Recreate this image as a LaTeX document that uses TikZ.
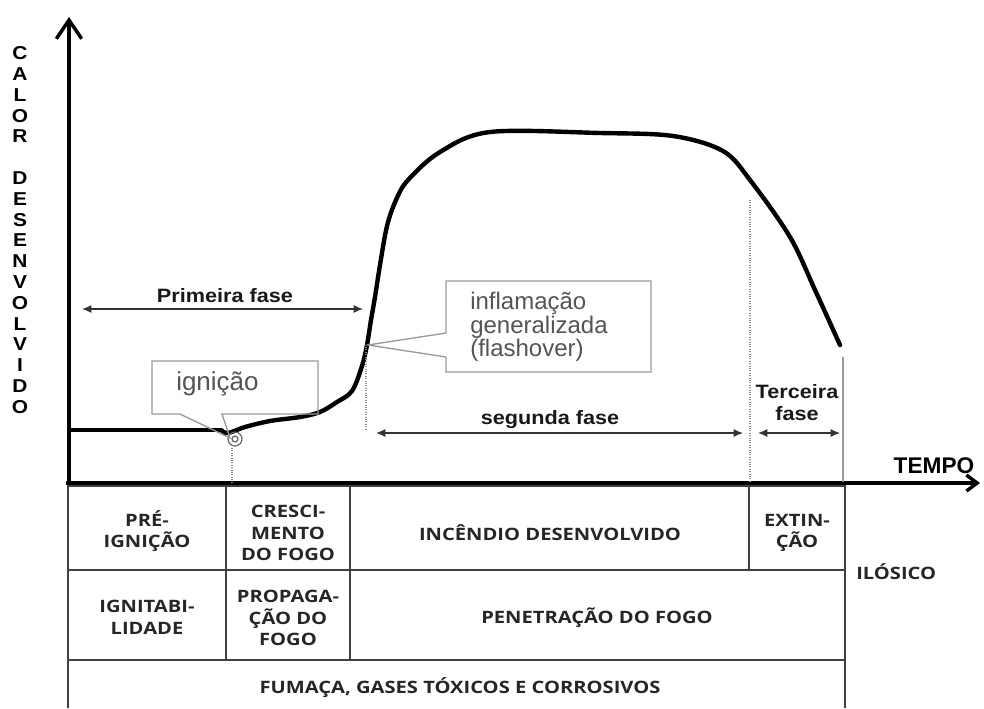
\documentclass[tikz,border=0pt]{standalone}
\usepackage{fontspec}
\setmainfont{Liberation Sans}
\newfontfamily\tabfont[FakeStretch=1.18]{Open Sans}
\newfontfamily\widefont[FakeStretch=1.12]{Liberation Sans}
\usetikzlibrary{arrows.meta}
\definecolor{boxgray}{gray}{0.6}
\definecolor{notegray}{gray}{0.33}

\begin{document}
\begin{tikzpicture}[x=0.75pt,y=-0.75pt,
    axis/.style={line width=2.6pt, line cap=butt},
    fire/.style={line width=3.3pt, line join=round, line cap=round},
    dim/.style={{Latex[length=7pt,width=6pt]}-{Latex[length=7pt,width=6pt]}, line width=0.9pt, draw=black!80},
    guide/.style={draw=black!45, line width=0.8pt, densely dotted},
    callout/.style={draw=boxgray, line width=1pt, line join=miter},
    phase/.style={font=\widefont\bfseries\fontsize{14.5}{16.5}\selectfont, text=black!90, align=center, inner sep=0pt},
    note/.style={text=notegray, font=\fontsize{18}{17.6}\selectfont, align=left, anchor=west, inner sep=0pt},
    cell/.style={font=\tabfont\bfseries\fontsize{12.8}{16.3}\selectfont, align=center, text=black!85, inner sep=0pt},
    tabline/.style={draw=black!75, line width=1pt},
    spark/.style={circle, draw=black!60, line width=0.9pt, inner sep=0pt}
  ]
  \useasboundingbox (0,0) rectangle (984,708);

  % axes
  \coordinate (origin) at (69,483);
  \coordinate (ytop) at (69,17);
  \coordinate (xleft) at (66,483);
  \coordinate (xend) at (980,483);
  \draw[axis, -{Straight Barb[length=14pt,width=19pt]}] (origin) -- (ytop);
  \draw[axis, -{Straight Barb[length=8pt,width=12pt]}] (xleft) -- (xend);
  \node[font=\widefont\bfseries\fontsize{14}{15.6}\selectfont, align=center, inner sep=0pt] (ylabel) at (20,230)
    {C\\A\\L\\O\\R\\[15.6pt]D\\E\\S\\E\\N\\V\\O\\L\\V\\I\\D\\O};
  \node[font=\bfseries\fontsize{17}{18}\selectfont, inner sep=0pt] (tempo) at (934,466) {TEMPO};

  % curve
  \draw[fire] (70,430) -- (221,430);
  \draw[fire] plot[smooth, tension=0.55] coordinates {(221,430) (228,433) (245,427) (270,421)
    (300,417) (320,412) (337,402) (352,391) (362,366) (367,345) (371,320) (375,297) (380,265)
    (387,226) (396,200) (408,180) (440,152) (490,132) (600,133) (673,136) (723,151) (750,180)
    (790,237) (815,290) (840,345)};
  \node[spark, minimum size=10.5pt] (ign) at (235,439) {};
  \node[spark, minimum size=4.5pt] (igncore) at (235,439) {};

  % guides
  \coordinate (g1a) at (232,448); \coordinate (g1b) at (232,482);
  \coordinate (g2a) at (366,347); \coordinate (g2b) at (366,431);
  \coordinate (g3a) at (750,200); \coordinate (g3b) at (750,482);
  \coordinate (g4a) at (843,357); \coordinate (g4b) at (843,482);
  \draw[guide] (g1a) -- (g1b);
  \draw[guide] (g2a) -- (g2b);
  \draw[guide] (g3a) -- (g3b);
  \draw[draw=black!40, line width=1pt] (g4a) -- (g4b);

  % phases
  \coordinate (f1a) at (82,309); \coordinate (f1b) at (363,309);
  \coordinate (f2a) at (376,433); \coordinate (f2b) at (743,433);
  \coordinate (f3a) at (758,433); \coordinate (f3b) at (840,433);
  \draw[dim] (f1a) -- (f1b);
  \draw[dim] (f2a) -- (f2b);
  \draw[dim] (f3a) -- (f3b);
  \node[phase] (fase1) at (225,296) {Primeira fase};
  \node[phase] (fase2) at (550,420) {segunda fase};
  \node[phase] (fase3) at (797,403) {Terceira\\fase};

  % callouts
  \draw[callout] (152,361) -- (318,361) -- (318,414) -- (222,414) -- (230,438)
    -- (180,414) -- (152,414) -- cycle;
  \node[note, font=\fontsize{19.5}{20}\selectfont] (ignlabel) at (176,384) {ignição};
  \draw[callout] (446,281) -- (651,281) -- (651,372) -- (446,372) -- (446,357)
    -- (368,345) -- (446,333) -- cycle;
  \node[note] (flashlabel) at (470,327) {inflamação\\generalizada\\(flashover)};

  % table
  \draw[tabline] (68,708) -- (68,486) -- (845,486) -- (845,708);
  \draw[tabline] (68,570) -- (845,570);
  \draw[tabline] (68,660) -- (845,660);
  \draw[tabline] (226,486) -- (226,660);
  \draw[tabline] (350,486) -- (350,660);
  \draw[tabline] (749,486) -- (749,570);
  \node[cell] (preign) at (147,531) {PRÉ-\\IGNIÇÃO};
  \node[cell] (cresc) at (288,533) {CRESCI-\\MENTO\\DO FOGO};
  \node[cell] (incdes) at (550,533) {INCÊNDIO DESENVOLVIDO};
  \node[cell] (extin) at (797,533) {EXTIN-\\ÇÃO};
  \node[cell] (ignit) at (147,617) {IGNITABI-\\LIDADE};
  \node[cell] (propag) at (288,618) {PROPAGA-\\ÇÃO DO\\FOGO};
  \node[cell] (penet) at (597,618) {PENETRAÇÃO DO FOGO};
  \node[cell] (fumaca) at (460,688) {FUMAÇA, GASES TÓXICOS E CORROSIVOS};
  \node[cell, anchor=west] (filos) at (856,572) {ILÓSICO};
\end{tikzpicture}
\end{document}
